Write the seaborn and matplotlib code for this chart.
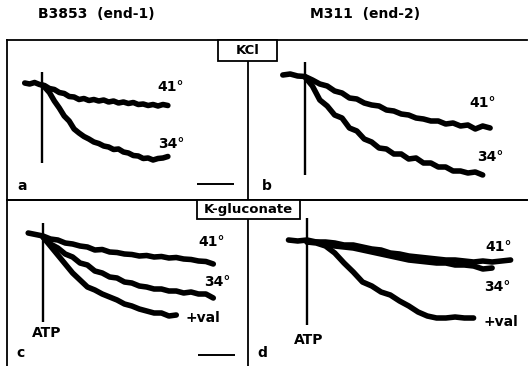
import matplotlib
matplotlib.use("Agg")
import matplotlib.pyplot as plt
from matplotlib.patches import Rectangle
import pandas as pd
import seaborn as sns

# ---------------- data (time in s after ATP, signal in a.u., 0 = level at ATP) -------------
col_titles = ["B3853  (end-1)", "M311  (end-2)"]
row_titles = ["KCl", "K-gluconate"]
panel_letters = ["a", "b", "c", "d"]

# panel a (B3853, KCl)
a_t41 = [-28, -20, -12, -4, 4, 12, 20, 28, 36, 44, 52, 60, 68, 76, 84, 92, 100, 108, 116,
         124, 132, 140, 148, 156, 164, 172, 180, 188, 196, 204]
a_v41 = [2, 1, 2.5, 0.5, -0.5, -3.5, -4.5, -7.5, -8.5, -11.5, -12, -14.5, -13.5, -15.5, -14.5,
         -16, -15, -17, -16, -18, -17, -18.5, -17.5, -19.5, -19, -20.5, -19.5, -21, -19.5, -20.5]
a_t34 = [0, 4, 12, 20, 28, 36, 44, 52, 60, 68, 76, 84, 92, 100, 108, 116, 124, 132, 140, 148,
         156, 164, 172, 180, 188, 196, 204]
a_v34 = [0, -2, -7.5, -16, -23, -31, -36, -44, -48, -51.5, -54, -57, -58.5, -61, -62, -64.5,
         -64, -67, -68, -70.5, -71, -73.5, -73, -75, -73.5, -73, -71.5]
a_atp = [13, -78]

# panel b (M311, KCl)
b_t41 = [-36, -24, -12, 0, 12, 24, 36, 48, 60, 72, 84, 96, 108, 120, 132, 144, 156, 168, 180,
         192, 204, 216, 228, 240, 252, 264, 276, 288, 300]
b_v41 = [2, 3, 1, 0.5, -3, -7, -9, -14, -16, -21, -22, -26, -28, -29, -33, -34, -37, -38, -41,
         -42, -44, -44, -47, -46, -49, -48, -52, -49, -51]
b_t34 = [0, 12, 24, 36, 48, 60, 72, 84, 96, 108, 120, 132, 144, 156, 168, 180, 192, 204, 216,
         228, 240, 252, 264, 276, 288]
b_v34 = [0, -9, -23, -29, -38, -41, -51, -54, -62, -65, -71, -72, -77, -77, -82, -81, -86, -86,
         -90, -90, -94, -94, -96, -95, -98]
b_atp = [15, -98]

# panel c (B3853, K-gluconate)
c_t41 = [-24, -12, 0, 12, 24, 36, 48, 60, 72, 84, 96, 108, 120, 132, 144, 156, 168, 180, 192,
         204, 216, 228, 240, 252, 264, 276]
c_v41 = [4, 2.5, 1, -2, -3, -6, -7, -9, -10, -13, -12.5, -15, -15.5, -17, -17.5, -19, -18.5,
         -20, -19.5, -21, -20.5, -22, -22.5, -24, -24.5, -27]
c_t34 = [0, 12, 24, 36, 48, 60, 72, 84, 96, 108, 120, 132, 144, 156, 168, 180, 192, 204, 216,
         228, 240, 252, 264, 276]
c_v34 = [0, -7, -11, -17, -20, -26, -28, -34, -36, -40, -41, -45, -46, -49, -50, -52, -52, -54,
         -54, -56, -55, -57, -57, -61]
c_tval = [0, 12, 24, 36, 48, 60, 72, 84, 96, 108, 120, 132, 144, 156, 168, 180, 192, 204, 216]
c_vval = [0, -9, -18, -27, -36, -43, -50, -53, -57, -60, -63, -67, -69, -72, -74, -76, -76,
          -79, -78]
c_atp = [14, -85]

# panel d (M311, K-gluconate)
d_t41 = [-30, -15, 0, 15, 30, 45, 60, 75, 90, 105, 120, 135, 150, 165, 180, 195, 210, 225,
         240, 255, 270, 285, 300, 315, 330]
d_v41 = [2, 1, 2, 0, 0, -1, -3, -3, -5, -7, -8, -11, -12, -14, -15, -16, -17, -18, -18, -19,
         -20, -19, -20, -19, -18]
d_t34 = [0, 15, 30, 45, 60, 75, 90, 105, 120, 135, 150, 165, 180, 195, 210, 225, 240, 255,
         270, 285, 300]
d_v34 = [0, 0, -2, -4, -5, -6, -8, -10, -12, -14, -16, -18, -19, -20, -21, -21, -23, -23, -24,
         -27, -26]
d_tval = [0, 15, 30, 45, 60, 75, 90, 105, 120, 135, 150, 165, 180, 195, 210, 225, 240, 255, 270]
d_vval = [0, -1, -4, -11, -21, -30, -40, -44, -50, -53, -59, -64, -70, -74, -76, -76, -75, -76,
          -76]
d_atp = [24, -83]

scale_bar_s = 60

# ---------------- figure --------------------------------------------------------------------
sns.set_theme(style="white")
plt.rcParams['font.family'] = ['DejaVu Sans']
plt.rcParams['font.weight'] = 'bold'
plt.rcParams['text.color'] = 'black'

W, H = 529, 366
PXS = 0.617  # pixels per second
FS = 10
fig = plt.figure(figsize=(W / 100, H / 100), dpi=100)
fig.patch.set_facecolor("white")


def add_panel(left, right, top, bottom, atp_x, base_y, spines):
    ax = fig.add_axes([left / W, 1 - bottom / H, (right - left) / W, (bottom - top) / H])
    ax.set_xlim((left - atp_x) / PXS, (right - atp_x) / PXS)
    ax.set_ylim(base_y - bottom, base_y - top)
    ax.set_xticks([])
    ax.set_yticks([])
    ax.set_xlabel("")
    ax.set_ylabel("")
    ax.patch.set_alpha(0)
    for side, sp in ax.spines.items():
        sp.set_visible(side in spines)
        sp.set_color("black")
        sp.set_linewidth(1.3)
    return ax


def trace(ax, t, v):
    df = pd.DataFrame({"t": t, "v": v})
    sns.lineplot(data=df, x="t", y="v", ax=ax, color="black", linewidth=4.0,
                 estimator=None, sort=False, legend=False)
    ax.set_xlabel("")
    ax.set_ylabel("")


def label(ax, t, v, s):
    ax.text(t, v, s, ha="center", va="center", fontsize=FS, fontweight="bold", color="black")


ax_a = add_panel(7, 248, 40, 200, 42, 85, ["left", "top", "right", "bottom"])
ax_b = add_panel(248, 527, 40, 200, 305, 77, ["top", "bottom"])
ax_c = add_panel(7, 248, 200, 366, 43, 237, ["left", "top", "right"])
ax_d = add_panel(248, 527, 200, 366, 307, 242, ["top"])

# panel a
trace(ax_a, a_t41, a_v41)
trace(ax_a, a_t34, a_v34)
ax_a.vlines(0, a_atp[1], a_atp[0], color="black", lw=1.7)
label(ax_a, 209, -2, "41°")
label(ax_a, 209, -59, "34°")
ax_a.hlines(-99, 251, 251 + scale_bar_s, color="black", lw=1.4)

# panel b
trace(ax_b, b_t41, b_v41)
trace(ax_b, b_t34, b_v34)
ax_b.vlines(0, b_atp[1], b_atp[0], color="black", lw=1.7)
label(ax_b, 288, -26, "41°")
label(ax_b, 300, -80, "34°")

# panel c
trace(ax_c, c_t41, c_v41)
trace(ax_c, c_t34, c_v34)
trace(ax_c, c_tval, c_vval)
ax_c.vlines(0, c_atp[1], c_atp[0], color="black", lw=1.7)
label(ax_c, 274, -5, "41°")
label(ax_c, 282, -45, "34°")
label(ax_c, 259, -81, "+val")
label(ax_c, 6, -96, "ATP")
ax_c.hlines(-118, 251, 251 + scale_bar_s, color="black", lw=1.4)

# panel d
trace(ax_d, d_t41, d_v41)
trace(ax_d, d_t34, d_v34)
trace(ax_d, d_tval, d_vval)
ax_d.vlines(0, d_atp[1], d_atp[0], color="black", lw=1.7)
label(ax_d, 310, -5, "41°")
label(ax_d, 308, -45, "34°")
label(ax_d, 314, -80, "+val")
label(ax_d, 2, -98, "ATP")

# panel letters
for ax, letter, (x, y) in zip([ax_a, ax_b, ax_c, ax_d], panel_letters,
                              [(0.062, 0.085), (0.068, 0.085), (0.054, 0.08), (0.05, 0.08)]):
    ax.text(x, y, letter, transform=ax.transAxes, ha="center", va="center",
            fontsize=FS, fontweight="bold", color="black")

# column headers
fig.text(96 / W, 1 - 14 / H, col_titles[0], ha="center", va="center", fontsize=FS,
         fontweight="bold", color="black")
fig.text(365 / W, 1 - 14 / H, col_titles[1], ha="center", va="center", fontsize=FS,
         fontweight="bold", color="black")

# condition boxes
for (x0, x1, y0, y1), txt in zip([(218, 277, 40, 61), (197, 300, 200, 219)], row_titles):
    fig.patches.append(Rectangle((x0 / W, 1 - y1 / H), (x1 - x0) / W, (y1 - y0) / H,
                                 transform=fig.transFigure, facecolor="white",
                                 edgecolor="black", lw=1.3, zorder=5))
    fig.text((x0 + x1) / 2 / W, 1 - (y0 + y1) / 2 / H, txt, ha="center", va="center",
             fontsize=FS - 0.5, fontweight="bold", color="black", zorder=6)

fig.savefig("out.png", dpi=100, facecolor="white")
